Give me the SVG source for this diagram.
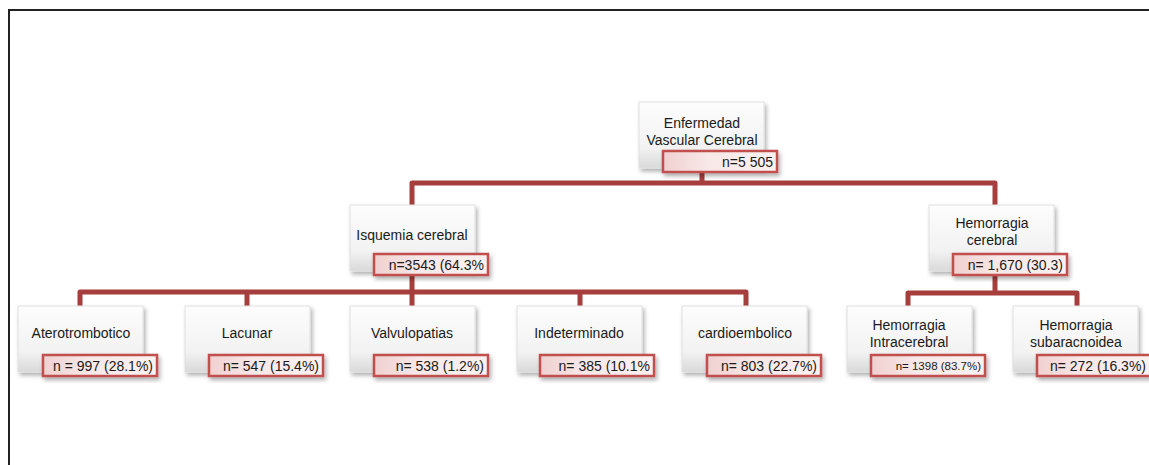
<svg xmlns="http://www.w3.org/2000/svg" width="1149" height="465" viewBox="0 0 1149 465">
<defs>
<linearGradient id="nodeGrad" x1="0" y1="0" x2="0" y2="1">
<stop offset="0" stop-color="#fdfdfd"/>
<stop offset="0.7" stop-color="#f2f2f2"/>
<stop offset="1" stop-color="#d9d9d9"/>
</linearGradient>
<linearGradient id="labGrad" x1="0" y1="0" x2="1" y2="0">
<stop offset="0" stop-color="#f0d0d0"/>
<stop offset="0.4" stop-color="#f8e8e8"/>
<stop offset="1" stop-color="#fbf1f1"/>
</linearGradient>
<filter id="sh" x="-10%" y="-10%" width="130%" height="140%">
<feDropShadow dx="2" dy="3" stdDeviation="2" flood-color="#000" flood-opacity="0.3"/>
</filter>
</defs>
<style>
.node{fill:url(#nodeGrad);stroke:#e0e0e0;stroke-width:1;filter:url(#sh)}
.lab{fill:url(#labGrad);stroke:#c0504d;stroke-width:2.5;filter:url(#sh)}
.t{font-family:"Liberation Sans",Arial,sans-serif;font-size:14px;fill:#1a1a1a;text-anchor:middle}
.n{font-family:"Liberation Sans",Arial,sans-serif;font-size:14px;fill:#1a1a1a;text-anchor:end}
.conn{fill:none;stroke:#a63e3d;stroke-width:5;stroke-linejoin:round}
.frame{stroke:#222;stroke-width:2;fill:none}
</style>
<rect width="1149" height="465" fill="#fff"/>
<path class="frame" d="M9,465 V10 H1149"/>
<g id="connectors">
<path class="conn" d="M412,205 V183 H995 V205 M702,172 V183"/>
<path class="conn" d="M80,306 V292 H746 V306 M247,292 V306 M412,275 V306 M580,292 V306"/>
<path class="conn" d="M995,275 V293 M908,306 V293 H1077 V306"/>
</g>
<g id="root">
<rect class="node" x="639" y="102" width="125" height="66"/>
<text class="t" x="702" y="128">Enfermedad</text>
<text class="t" x="702" y="145">Vascular Cerebral</text>
<rect class="lab" x="663" y="151" width="114" height="21"/>
<text class="n" x="773" y="167">n=5 505</text>
</g>
<g id="isquemia">
<rect class="node" x="350" y="205" width="125" height="66"/>
<text class="t" x="412" y="240">Isquemia cerebral</text>
<rect class="lab" x="374" y="254" width="114" height="21"/>
<text class="n" x="484" y="270">n=3543 (64.3%</text>
</g>
<g id="hemorragia">
<rect class="node" x="929" y="205" width="125" height="66"/>
<text class="t" x="992" y="228">Hemorragia</text>
<text class="t" x="992" y="245">cerebral</text>
<rect class="lab" x="953" y="254" width="114" height="21"/>
<text class="n" x="1063" y="270">n= 1,670 (30.3)</text>
</g>
<g id="aterotrombotico">
<rect class="node" x="18" y="306" width="125" height="66"/>
<text class="t" x="81" y="338">Aterotrombotico</text>
<rect class="lab" x="43" y="355" width="114" height="21"/>
<text class="n" x="153" y="371">n = 997 (28.1%)</text>
</g>
<g id="lacunar">
<rect class="node" x="185" y="306" width="125" height="66"/>
<text class="t" x="247" y="338">Lacunar</text>
<rect class="lab" x="209" y="355" width="114" height="21"/>
<text class="n" x="319" y="371">n= 547 (15.4%)</text>
</g>
<g id="valvulopatias">
<rect class="node" x="350" y="306" width="125" height="66"/>
<text class="t" x="412" y="338">Valvulopatias</text>
<rect class="lab" x="374" y="355" width="114" height="21"/>
<text class="n" x="484" y="371">n= 538 (1.2%)</text>
</g>
<g id="indeterminado">
<rect class="node" x="517" y="306" width="125" height="66"/>
<text class="t" x="579" y="338">Indeterminado</text>
<rect class="lab" x="540" y="355" width="114" height="21"/>
<text class="n" x="650" y="371">n= 385 (10.1%</text>
</g>
<g id="cardioembolico">
<rect class="node" x="682" y="306" width="125" height="66"/>
<text class="t" x="745" y="338">cardioembolico</text>
<rect class="lab" x="707" y="355" width="114" height="21"/>
<text class="n" x="817" y="371">n= 803 (22.7%)</text>
</g>
<g id="intracerebral">
<rect class="node" x="847" y="306" width="125" height="66"/>
<text class="t" x="909" y="330">Hemorragia</text>
<text class="t" x="909" y="347">Intracerebral</text>
<rect class="lab" x="871" y="355" width="114" height="21"/>
<text class="n" x="981" y="370" style="font-size:11.5px">n= 1398 (83.7%)</text>
</g>
<g id="subaracnoidea">
<rect class="node" x="1013" y="306" width="125" height="66"/>
<text class="t" x="1076" y="330">Hemorragia</text>
<text class="t" x="1076" y="347">subaracnoidea</text>
<rect class="lab" x="1037" y="355" width="114" height="21"/>
<text class="n" x="1146" y="371">n= 272 (16.3%)</text>
</g>
</svg>
